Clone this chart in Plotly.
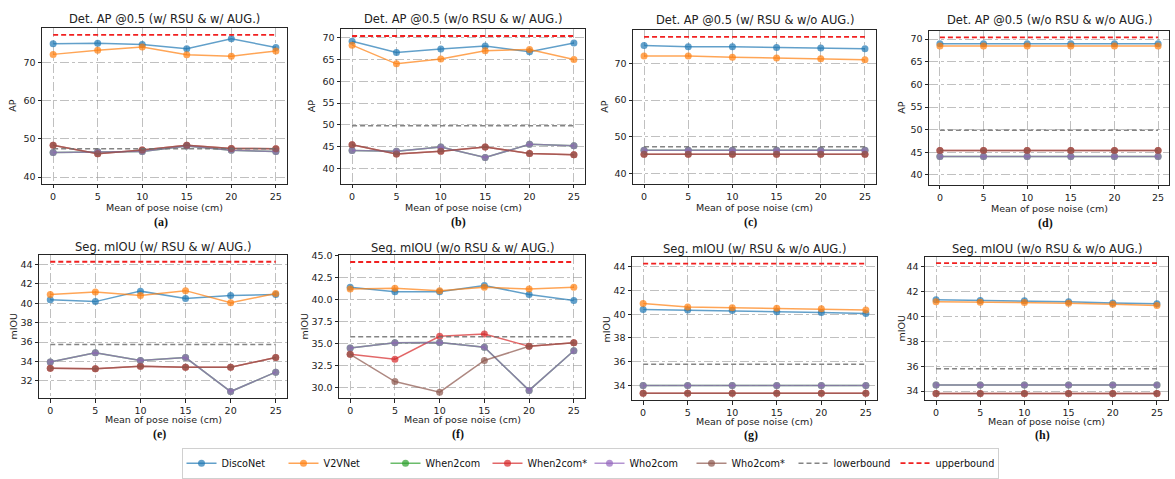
import plotly.graph_objects as go

W, H = 1175, 479

noise = [0, 5, 10, 15, 20, 25]

# ---- Detection AP panels ----
a_disco = [74.9, 75.0, 74.7, 73.6, 76.2, 73.9]
a_v2v = [72.1, 73.2, 74.0, 72.0, 71.6, 73.0]
a_when = [46.4, 46.6, 46.7, 48.1, 47.0, 46.7]
a_whenstar = [48.3, 46.1, 47.1, 48.3, 47.5, 47.4]
a_who = [46.4, 46.6, 46.7, 48.1, 47.0, 46.7]
a_whostar = [48.3, 46.1, 47.1, 48.3, 47.5, 47.4]
a_lower, a_upper = 47.4, 77.2

b_disco = [69.2, 66.6, 67.4, 68.1, 66.8, 68.8]
b_v2v = [68.3, 64.0, 65.1, 67.0, 67.3, 65.0]
b_when = [44.1, 43.9, 44.9, 42.5, 45.5, 45.2]
b_whenstar = [45.4, 43.3, 43.9, 44.9, 43.4, 43.1]
b_who = [44.1, 43.9, 44.9, 42.5, 45.5, 45.2]
b_whostar = [45.4, 43.3, 43.9, 44.9, 43.4, 43.1]
b_lower, b_upper = 49.8, 70.4

c_disco = [74.9, 74.5, 74.5, 74.3, 74.2, 74.0]
c_v2v = [72.0, 72.0, 71.7, 71.5, 71.25, 71.0]
c_when = [46.4, 46.4, 46.4, 46.4, 46.4, 46.4]
c_whenstar = [45.3, 45.3, 45.3, 45.3, 45.3, 45.3]
c_who = [46.4, 46.4, 46.4, 46.4, 46.4, 46.4]
c_whostar = [45.3, 45.3, 45.3, 45.3, 45.3, 45.3]
c_lower, c_upper = 47.3, 77.2

d_disco = [69.0, 69.0, 69.0, 69.0, 69.0, 69.0]
d_v2v = [68.5, 68.5, 68.5, 68.5, 68.5, 68.5]
d_when = [44.1, 44.1, 44.1, 44.1, 44.1, 44.1]
d_whenstar = [45.4, 45.4, 45.4, 45.4, 45.4, 45.4]
d_who = [44.1, 44.1, 44.1, 44.1, 44.1, 44.1]
d_whostar = [45.4, 45.4, 45.4, 45.4, 45.4, 45.4]
d_lower, d_upper = 49.9, 70.4

# ---- Segmentation mIOU panels ----
e_disco = [40.35, 40.17, 41.25, 40.5, 40.8, 40.9]
e_v2v = [40.9, 41.15, 40.8, 41.3, 40.05, 41.0]
e_when = [33.95, 34.9, 34.1, 34.4, 30.9, 32.9]
e_whenstar = [33.3, 33.25, 33.5, 33.4, 33.4, 34.4]
e_who = [33.95, 34.9, 34.1, 34.4, 30.9, 32.9]
e_whostar = [33.3, 33.25, 33.5, 33.4, 33.4, 34.4]
e_lower, e_upper = 35.76, 44.28

f_disco = [41.4, 40.9, 40.9, 41.6, 40.6, 39.9]
f_v2v = [41.2, 41.3, 41.0, 41.4, 41.2, 41.4]
f_when = [34.5, 35.1, 35.15, 34.6, 29.7, 34.2]
f_whenstar = [33.8, 33.25, 35.85, 36.1, 34.7, 35.1]
f_who = [34.5, 35.1, 35.15, 34.6, 29.7, 34.2]
f_whostar = [33.8, 30.7, 29.5, 33.1, 34.7, 35.1]
f_lower, f_upper = 35.8, 44.28

g_disco = [40.4, 40.35, 40.3, 40.2, 40.15, 40.05]
g_v2v = [40.9, 40.6, 40.55, 40.5, 40.45, 40.35]
g_when = [34.0, 34.0, 34.0, 34.0, 34.0, 34.0]
g_whenstar = [33.35, 33.35, 33.35, 33.35, 33.35, 33.35]
g_who = [34.0, 34.0, 34.0, 34.0, 34.0, 34.0]
g_whostar = [33.35, 33.35, 33.35, 33.35, 33.35, 33.35]
g_lower, g_upper = 35.78, 44.25

h_disco = [41.35, 41.3, 41.27, 41.2, 41.1, 41.03]
h_v2v = [41.2, 41.16, 41.14, 41.08, 41.0, 40.9]
h_when = [34.5, 34.5, 34.5, 34.5, 34.5, 34.5]
h_whenstar = [33.8, 33.8, 33.8, 33.8, 33.8, 33.8]
h_who = [34.5, 34.5, 34.5, 34.5, 34.5, 34.5]
h_whostar = [33.8, 33.8, 33.8, 33.8, 33.8, 33.8]
h_lower, h_upper = 35.8, 44.3

titles = [
    "Det. AP @0.5 (w/ RSU & w/ AUG.)", "Det. AP @0.5 (w/o RSU & w/ AUG.)",
    "Det. AP @0.5 (w/ RSU & w/o AUG.)", "Det. AP @0.5 (w/o RSU & w/o AUG.)",
    "Seg. mIOU (w/ RSU & w/ AUG.)", "Seg. mIOU (w/o RSU & w/ AUG.)",
    "Seg. mIOU (w/ RSU & w/o AUG.)", "Seg. mIOU (w/o RSU & w/o AUG.)",
]
captions = ["(a)", "(b)", "(c)", "(d)", "(e)", "(f)", "(g)", "(h)"]
ylabels = ["AP"] * 4 + ["mIOU"] * 4
xlabel = "Mean of pose noise (cm)"
series_names = ["DiscoNet", "V2VNet", "When2com", "When2com*", "Who2com", "Who2com*"]

panels = [
    [a_disco, a_v2v, a_when, a_whenstar, a_who, a_whostar, a_lower, a_upper],
    [b_disco, b_v2v, b_when, b_whenstar, b_who, b_whostar, b_lower, b_upper],
    [c_disco, c_v2v, c_when, c_whenstar, c_who, c_whostar, c_lower, c_upper],
    [d_disco, d_v2v, d_when, d_whenstar, d_who, d_whostar, d_lower, d_upper],
    [e_disco, e_v2v, e_when, e_whenstar, e_who, e_whostar, e_lower, e_upper],
    [f_disco, f_v2v, f_when, f_whenstar, f_who, f_whostar, f_lower, f_upper],
    [g_disco, g_v2v, g_when, g_whenstar, g_who, g_whostar, g_lower, g_upper],
    [h_disco, h_v2v, h_when, h_whenstar, h_who, h_whostar, h_lower, h_upper],
]

# styling / layout (pixel boxes: left, top, right, bottom)
boxes = [(42, 23, 287, 182), (341, 24, 585, 182), (633, 25, 876, 182), (929, 26, 1169, 183),
         (39, 254, 287, 400), (339, 254, 585, 400), (632, 256, 877, 402), (925, 256, 1168, 402)]
yranges = [(38.2, 79.1), (36.4, 72.1), (37.2, 79.2), (37.8, 71.9),
           (30.2, 45.0), (28.8, 45.1), (32.76, 44.83), (33.26, 44.82)]
ydticks = [10, 5, 10, 5, 2, 2.5, 2, 2]
ytick0 = [40, 40, 40, 40, 32, 30, 34, 34]
yfmt = ["d", "d", "d", "d", "d", ".1f", "d", "d"]
ylabel_x = [13, 311, 605, 902, 14, 305, 607, 902]
title_y = [14, 14, 15, 15, 246, 247, 248, 248]
xlabel_y = [206, 206, 206, 207, 422, 422, 424, 424]
caption_y = [221, 221, 221, 222, 436, 436, 437, 437]

colors = [(31, 119, 180), (255, 127, 14), (44, 160, 44), (214, 39, 40), (148, 103, 189), (140, 86, 75)]
alpha = 0.7
FONT = "DejaVu Sans"
axcol = "#262626"

fig = go.Figure()
annotations = []
for i, p in enumerate(panels):
    ax = "" if i == 0 else str(i + 1)
    for k, name in enumerate(series_names):
        r, g, b = colors[k]
        c = f"rgba({r},{g},{b},{alpha})"
        fig.add_trace(go.Scatter(
            x=noise, y=p[k], mode="lines+markers", name=name,
            line=dict(color=c, width=1.5), marker=dict(color=c, size=7, line=dict(width=0)),
            xaxis="x" + ax, yaxis="y" + ax, showlegend=(i == 0), legendgroup=name))
    fig.add_trace(go.Scatter(
        x=[noise[0], noise[-1]], y=[p[6], p[6]], mode="lines", name="lowerbound",
        line=dict(color="rgba(110,110,110,0.85)", width=1.5, dash="5px,3px"),
        xaxis="x" + ax, yaxis="y" + ax, showlegend=(i == 0), legendgroup="lowerbound"))
    fig.add_trace(go.Scatter(
        x=[noise[0], noise[-1]], y=[p[7], p[7]], mode="lines", name="upperbound",
        line=dict(color="rgba(240,20,20,0.95)", width=1.8, dash="5px,3px"),
        xaxis="x" + ax, yaxis="y" + ax, showlegend=(i == 0), legendgroup="upperbound"))

    l, t, rr, bt = boxes[i]
    common = dict(showline=True, mirror=True, linecolor=axcol, linewidth=1,
                  ticks="outside", ticklen=3.5, tickwidth=0.8, tickcolor=axcol,
                  showgrid=True, gridcolor="rgba(150,150,150,0.6)", gridwidth=0.8, griddash="dashdot",
                  zeroline=False, tickfont=dict(family=FONT, size=9.5, color="#222"))
    fig.update_layout({
        "xaxis" + ax: dict(domain=[l / W, rr / W], range=[-1.25, 26.25], tickmode="array",
                           tickvals=noise, anchor="y" + ax, **common),
        "yaxis" + ax: dict(domain=[1 - bt / H, 1 - t / H], range=list(yranges[i]), tick0=ytick0[i],
                           dtick=ydticks[i], tickformat=yfmt[i], anchor="x" + ax, **common),
    })
    cx = (l + rr) / 2 / W
    annotations.append(dict(text=titles[i], x=cx, y=1 - title_y[i] / H, xref="paper", yref="paper",
                            showarrow=False, xanchor="center", yanchor="middle",
                            font=dict(family=FONT, size=11.5, color="#222")))
    annotations.append(dict(text=xlabel, x=cx, y=1 - xlabel_y[i] / H, xref="paper", yref="paper",
                            showarrow=False, xanchor="center", yanchor="middle",
                            font=dict(family=FONT, size=9.5, color="#222")))
    annotations.append(dict(text="<b>" + captions[i] + "</b>", x=cx - 4 / W, y=1 - caption_y[i] / H,
                            xref="paper", yref="paper", showarrow=False, xanchor="center",
                            yanchor="middle", font=dict(family="Liberation Serif", size=12, color="#111")))
    annotations.append(dict(text=ylabels[i], x=ylabel_x[i] / W, y=1 - (t + bt) / 2 / H, xref="paper",
                            yref="paper", showarrow=False, xanchor="center", yanchor="middle",
                            textangle=-90, font=dict(family=FONT, size=9.5, color="#222")))

fig.update_layout(
    width=W, height=H, margin=dict(l=0, r=0, t=0, b=0),
    paper_bgcolor="white", plot_bgcolor="white",
    annotations=annotations,
    legend=dict(orientation="h", x=590 / W, xanchor="center", y=1 - 466 / H, yanchor="middle",
                bordercolor="#d0d0d0", borderwidth=1, bgcolor="white",
                font=dict(family=FONT, size=9.7, color="#111"), itemwidth=30, tracegroupgap=0,
                entrywidth=57, entrywidthmode="pixels"),
    showlegend=True,
)

fig.write_html("out.html", config={"displayModeBar": False},
               post_script="document.body.style.margin='0';document.body.style.overflow='hidden';")
